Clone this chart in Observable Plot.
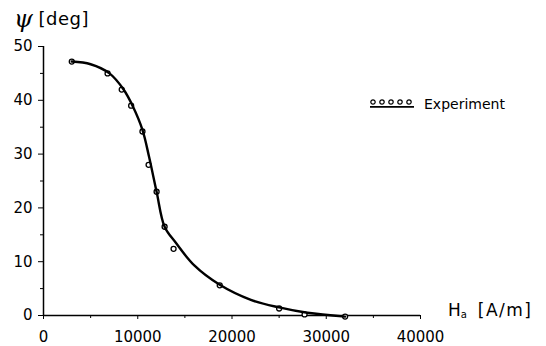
<!DOCTYPE html>
<html>
<head>
<meta charset="utf-8">
<script src="https://cdn.jsdelivr.net/npm/d3@7"></script>
<script src="https://cdn.jsdelivr.net/npm/@observablehq/plot@0.6"></script>
<style>
  body { margin: 0; background: #fff; }
  #wrap { position: relative; width: 546px; height: 346px; font-family: "DejaVu Sans", sans-serif; color: #000; }
  #wrap svg { position: absolute; left: 0; top: 0; }
  .lbl { position: absolute; white-space: nowrap; line-height: 1; }
</style>
</head>
<body>
<div id="wrap"></div>
<script>
// Experimental points: H_a [A/m], psi [deg]
const expH   = [3000, 6800, 8300, 9300, 10500, 11150, 12000, 12850, 13800, 18700, 25000, 27700, 32000];
const expPsi = [47.2, 45.0, 42.0, 39.0, 34.2, 28.0, 23.0, 16.5, 12.4, 5.6, 1.3, 0.2, -0.2];

// Calculated curve
const curveH   = [3000, 5000, 7000, 8500, 9500, 10500, 11200, 12000, 12850, 14000, 16000, 18700, 22000, 25000, 28000, 32000];
const curvePsi = [47.2, 46.7, 45.0, 42.0, 38.8, 34.5, 29.5, 23.0, 16.5, 13.6, 9.3, 5.7, 2.9, 1.5, 0.5, -0.2];

const xMajor = [0, 10000, 20000, 30000, 40000];
const xMinor = [5000, 15000, 25000, 35000];
const yMajor = [0, 10, 20, 30, 40, 50];
const yMinor = [5, 15, 25, 35, 45];

const expData = expH.map((h, i) => ({h, psi: expPsi[i]}));
const curveData = curveH.map((h, i) => ({h, psi: curvePsi[i]}));

const chart = Plot.plot({
  width: 546,
  height: 346,
  marginLeft: 43,
  marginRight: 126,
  marginTop: 46,
  marginBottom: 31,
  style: {fontFamily: "DejaVu Sans, sans-serif", fontSize: "15px", color: "#000", background: "transparent"},
  x: {domain: [0, 40000]},
  y: {domain: [0, 50]},
  marks: [
    Plot.axisY({ticks: yMajor, tickSize: 5, tickPadding: 6, tickFormat: d => String(d), label: null, fontSize: 15}),
    Plot.axisY({ticks: yMinor, tickSize: 3, text: null, label: null}),
    Plot.axisX({ticks: xMajor, tickSize: 4, tickPadding: 12, tickFormat: d => String(d), label: null, fontSize: 15}),
    Plot.axisX({ticks: xMinor, tickSize: 3, text: null, label: null}),
    Plot.ruleX([0], {stroke: "#000", strokeWidth: 1.5}),
    Plot.ruleY([0], {stroke: "#000", strokeWidth: 1.5}),
    Plot.dot(expData, {x: "h", y: "psi", r: 2.5, stroke: "#000", strokeWidth: 1.3, fill: "white"}),
    Plot.line(curveData, {x: "h", y: "psi", curve: "catmull-rom", stroke: "#000", strokeWidth: 2.4})
  ]
});

const wrap = document.getElementById("wrap");
wrap.appendChild(chart);

function addLabel(html, left, top, size) {
  const d = document.createElement("div");
  d.className = "lbl";
  d.style.left = left + "px";
  d.style.top = top + "px";
  d.style.fontSize = size + "px";
  d.innerHTML = html;
  wrap.appendChild(d);
}

addLabel('<span style="font-family:\'DejaVu Serif\',serif;font-style:italic;font-size:24px;vertical-align:-2px">ψ</span>&nbsp;<span style="letter-spacing:0.5px">[deg]</span>', 14, 7, 18);
addLabel('H<sub style="font-size:10px;vertical-align:-2px">a</sub>&nbsp;&nbsp;<span style="letter-spacing:1.5px">[A/m]</span>', 448, 302, 17);

// Legend
const legendSvg = `<svg width="46" height="12" style="vertical-align:middle;margin-right:9px;position:static">
  ${[4,13,22,31,40].map(cx => `<circle cx="${cx}" cy="4" r="2.2" fill="white" stroke="black" stroke-width="1.2"/>`).join("")}
  <line x1="1" x2="45" y1="8.8" y2="8.8" stroke="black" stroke-width="1.8"/>
</svg>`;
addLabel(legendSvg + '<span style="vertical-align:middle">Experiment</span>', 369, 96, 14);
</script>
</body>
</html>
